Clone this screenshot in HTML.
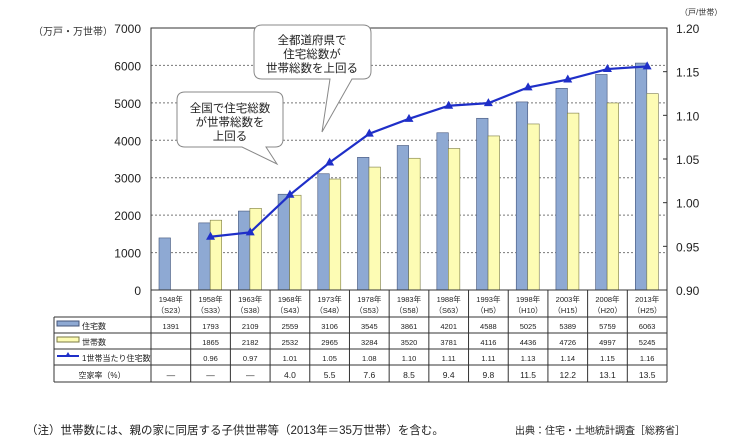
<!DOCTYPE html>
<html><head><meta charset="utf-8"><style>
body{margin:0;width:751px;height:439px;background:#fff;overflow:hidden;font-family:"Liberation Sans","Noto Sans CJK JP",sans-serif;}
</style></head><body>
<svg width="751" height="439" viewBox="0 0 751 439" xmlns="http://www.w3.org/2000/svg" style="font-family:'Liberation Sans','Noto Sans CJK JP',sans-serif">
<g id="grid"></g>
<g id="bars"></g>
<g id="axes"></g>
<g id="line"></g>
<g id="table"></g>
<text x="33" y="35" font-size="10" fill="#333">（万戸・万世帯）</text>
<text x="680" y="15" font-size="8" fill="#333">（戸/世帯）</text>
<g>
<path d="M262,25 H363 Q371,25 371,33 V71 Q371,79 363,79 H352 L322,132 L330,79 H262 Q254,79 254,71 V33 Q254,25 262,25 Z" fill="#fff" stroke="#888" stroke-width="1"/>
<text x="312" y="44" font-size="11.5" text-anchor="middle" fill="#222">全都道府県で</text>
<text x="312" y="58" font-size="11.5" text-anchor="middle" fill="#222">住宅総数が</text>
<text x="312" y="72" font-size="11.5" text-anchor="middle" fill="#222">世帯総数を上回る</text>
</g>
<g>
<path d="M185,92 H275 Q283,92 283,100 V139 Q283,147 275,147 H266 L277,164 L242,147 H185 Q177,147 177,139 V100 Q177,92 185,92 Z" fill="#fff" stroke="#888" stroke-width="1"/>
<text x="230" y="112" font-size="11.5" text-anchor="middle" fill="#222">全国で住宅総数</text>
<text x="230" y="126" font-size="11.5" text-anchor="middle" fill="#222">が世帯総数を</text>
<text x="230" y="140" font-size="11.5" text-anchor="middle" fill="#222">上回る</text>
</g>
<text x="26" y="434" font-size="11.5" fill="#222">（注）世帯数には、親の家に同居する子供世帯等（2013年＝35万世帯）を含む。</text>
<text x="515" y="434" font-size="10" fill="#222">出典：住宅・土地統計調査［総務省］</text>
</svg>
<script>
const years=["1948年","1958年","1963年","1968年","1973年","1978年","1983年","1988年","1993年","1998年","2003年","2008年","2013年"];
const eras=["（S23）","（S33）","（S38）","（S43）","（S48）","（S53）","（S58）","（S63）","（H5）","（H10）","（H15）","（H20）","（H25）"];
const houses=[1391,1793,2109,2559,3106,3545,3861,4201,4588,5025,5389,5759,6063];
const households=[null,1865,2182,2532,2965,3284,3520,3781,4116,4436,4726,4997,5245];
const ratio=[null,0.96,0.97,1.01,1.05,1.08,1.10,1.11,1.11,1.13,1.14,1.15,1.16];
const ratioPlot=[null,0.961,0.966,1.009,1.046,1.079,1.096,1.111,1.114,1.132,1.141,1.153,1.156];
const vacancy=["—","—","—","4.0","5.5","7.6","8.5","9.4","9.8","11.5","12.2","13.1","13.5"];
const leftTicks=[0,1000,2000,3000,4000,5000,6000,7000];
const rightTicks=["0.90","0.95","1.00","1.05","1.10","1.15","1.20"];
const NS="http://www.w3.org/2000/svg";
const X0=151,X1=667,Y0=290,Y1=28,CW=(X1-X0)/years.length;
const yL=v=>Y0-(v/7000)*(Y0-Y1);
const yR=v=>Y0-((v-0.9)/0.3)*(Y0-Y1);
const cx=i=>X0+CW*i;
function mk(tag,attrs,parent,txt){const e=document.createElementNS(NS,tag);for(const k in attrs)e.setAttribute(k,attrs[k]);if(txt!=null)e.textContent=txt;document.getElementById(parent).appendChild(e);return e;}
leftTicks.forEach(t=>{
  if(t>0){const g=mk('line',{x1:X0,x2:X1,y1:yL(t),y2:yL(t),stroke:'#777','stroke-width':1,'stroke-dasharray':'2,2'},'grid');
  
  }
  const l=mk('text',{x:X0-10,y:yL(t)+5,'font-size':12,'text-anchor':'end',fill:'#222'},'axes',t);
  
  
});
rightTicks.forEach(t=>{
  const y=yR(parseFloat(t));
  mk('line',{x1:X1-4,x2:X1,y1:y,y2:y,stroke:'#333'},'axes');
  const l=mk('text',{x:X1+9,y:y+5,'font-size':12,fill:'#222'},'axes',t);
  
  
});
mk('rect',{x:X0,y:Y1,width:X1-X0,height:Y0-Y1,fill:'none',stroke:'#333','stroke-width':1},'axes');
years.forEach((y,i)=>{
  const b=mk('rect',{x:cx(i)+8,y:yL(houses[i]),width:11.5,height:Y0-yL(houses[i]),fill:'#8ea9d3',stroke:'#44557a','stroke-width':0.6},'bars');
  
  
  if(households[i]!=null){
    const c=mk('rect',{x:cx(i)+19.5,y:yL(households[i]),width:11.5,height:Y0-yL(households[i]),fill:'#fdfcb4',stroke:'#7a7a44','stroke-width':0.6},'bars');
    
    
  }
});
let pts=[];ratioPlot.forEach((v,i)=>{if(v!=null)pts.push([cx(i)+CW/2,yR(v)]);});
const pl=mk('polyline',{points:pts.map(p=>p.join(',')).join(' '),fill:'none',stroke:'#1f2fc8','stroke-width':2.2},'line');


pts.forEach(p=>{const m=mk('path',{d:`M${p[0]},${p[1]-5}L${p[0]+4.5},${p[1]+3}L${p[0]-4.5},${p[1]+3}Z`,fill:'#1f2fc8'},'line');
  
  });
const rows=[290,317,333,349,365,382];
const TL=54;
mk('line',{x1:TL,x2:X1,y1:rows[1],y2:rows[1],stroke:'#333'},'table');
for(let r=2;r<rows.length;r++)mk('line',{x1:TL,x2:X1,y1:rows[r],y2:rows[r],stroke:'#333'},'table');
mk('line',{x1:TL,x2:TL,y1:rows[1],y2:rows[5],stroke:'#333'},'table');
for(let i=0;i<=years.length;i++)mk('line',{x1:cx(i),x2:cx(i),y1:rows[0],y2:rows[5],stroke:'#333'},'table');
years.forEach((y,i)=>{
  const c=cx(i)+CW/2;
  const a=mk('text',{x:c,y:302,'font-size':7.5,'text-anchor':'middle',fill:'#222'},'table',y);
  
  
  mk('text',{x:c,y:313,'font-size':7.5,'text-anchor':'middle',fill:'#222'},'table',eras[i]);
  mk('text',{x:c,y:329,'font-size':7.5,'text-anchor':'middle',fill:'#222'},'table',houses[i]);
  if(households[i]!=null)mk('text',{x:c,y:345,'font-size':7.5,'text-anchor':'middle',fill:'#222'},'table',households[i]);
  if(ratio[i]!=null)mk('text',{x:c,y:361,'font-size':7.5,'text-anchor':'middle',fill:'#222'},'table',ratio[i].toFixed(2));
  mk('text',{x:c,y:378,'font-size':8.5,'text-anchor':'middle',fill:'#222'},'table',vacancy[i]);
});
mk('rect',{x:57,y:321,width:22,height:5,fill:'#8ea9d3',stroke:'#44557a'},'table');
mk('text',{x:82,y:329,'font-size':8,fill:'#222'},'table','住宅数');
mk('rect',{x:57,y:337,width:22,height:5,fill:'#fdfcb4',stroke:'#7a7a44'},'table');
mk('text',{x:82,y:345,'font-size':8,fill:'#222'},'table','世帯数');
mk('line',{x1:57,x2:79,y1:356,y2:356,stroke:'#1f2fc8','stroke-width':2},'table');
mk('path',{d:'M68,352L71,357L65,357Z',fill:'#1f2fc8'},'table');
mk('text',{x:82,y:361,'font-size':8,fill:'#222'},'table','1世帯当たり住宅数');
mk('text',{x:102,y:378,'font-size':8,'text-anchor':'middle',fill:'#222'},'table','空家率（%）');
</script>
</body></html>
